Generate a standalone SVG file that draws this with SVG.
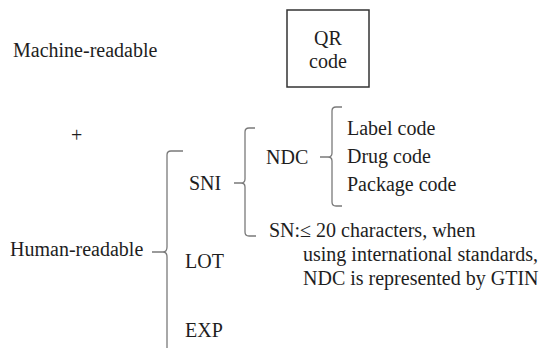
<svg xmlns="http://www.w3.org/2000/svg" width="544" height="348" viewBox="0 0 544 348">
<style>
text{font-family:'Liberation Serif','Tinos','Times New Roman','DejaVu Serif',serif;font-size:20px;fill:#1e1e1e}
.br{fill:none;stroke:#7a7a7a;stroke-width:1.3}
.box{fill:#fff;stroke:#333;stroke-width:1.5}
</style>
<rect width="544" height="348" fill="#fff"/>
<g font-family="Liberation Serif, Times New Roman, DejaVu Serif, serif">
<g id="machine"><text x="13" y="57">Machine-readable</text></g>
<g id="qr"><rect class="box" x="287" y="10" width="82" height="77"/><text x="328" y="45" text-anchor="middle">QR</text><text x="328" y="68" text-anchor="middle">code</text></g>
<g id="plus"><text x="71" y="142">+</text></g>
<g id="human"><text x="10" y="256">Human-readable</text></g>
<g id="sni"><text x="189" y="190">SNI</text></g>
<g id="lot"><text x="185" y="268">LOT</text></g>
<g id="exp"><text x="185" y="337">EXP</text></g>
<g id="ndc"><text x="266" y="164">NDC</text></g>
<g id="label"><text x="347" y="135">Label code</text></g>
<g id="drug"><text x="347" y="163">Drug code</text></g>
<g id="package"><text x="347" y="191">Package code</text></g>
<g id="sn"><text x="269" y="237">SN:≤ 20 characters, when</text><text x="303" y="261">using international standards,</text><text x="303" y="285">NDC is represented by GTIN</text></g>
</g>
<g id="connectors">
<path class="br" d="M183,151 L171,151 Q167,151 167,155 L167,247 Q167,252 163,252 L152,252 M163,252 Q167,252 167,257 L167,350"/>
<path class="br" d="M255,128 L249,128 Q245,128 245,132 L245,179 Q245,183 241,183 L234,183 M241,183 Q245,183 245,187 L245,232 Q245,236 249,236 L256,236"/>
<path class="br" d="M342,107 L336,107 Q332,107 332,111 L332,153 Q332,157 328,157 L320,157 M328,157 Q332,157 332,161 L332,202 Q332,206 336,206 L342,206"/>
</g>
</svg>
